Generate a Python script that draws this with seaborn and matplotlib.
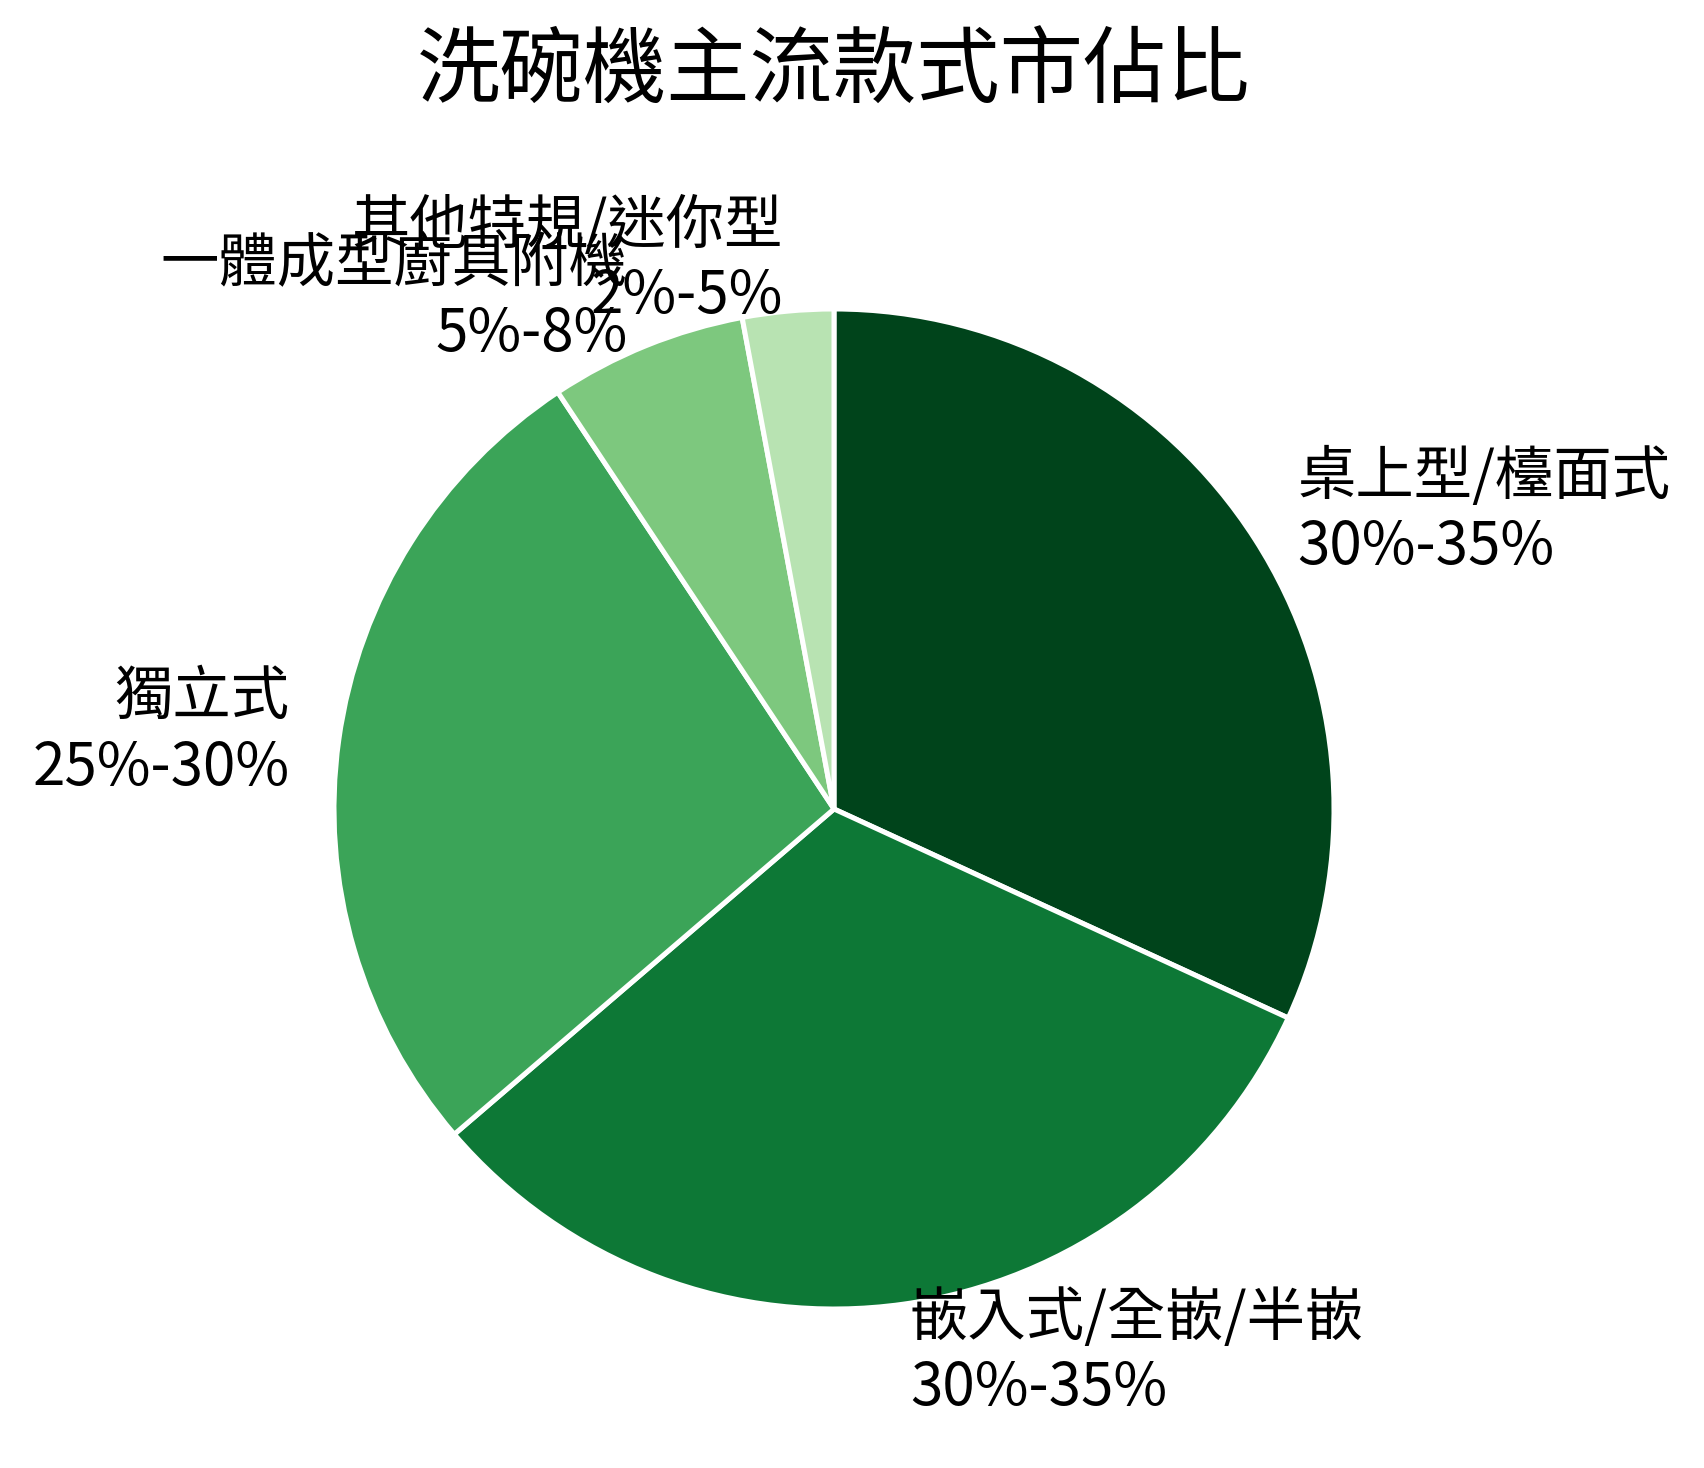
import numpy as np
import matplotlib
matplotlib.use("Agg")
import matplotlib.pyplot as plt
import seaborn as sns

# market share of dishwasher types (range labels + share used for slice size)
categories = ["桌上型/檯面式", "嵌入式/全嵌/半嵌", "獨立式", "一體成型廚具附機", "其他特規/迷你型"]
ranges = ["30%-35%", "30%-35%", "25%-30%", "5%-8%", "2%-5%"]
shares = [32.5, 32.5, 27.5, 6.5, 3.0]
title = "洗碗機主流款式市佔比"

sns.set_theme(style="white")
plt.rcParams["font.family"] = ["Noto Sans CJK TC", "DejaVu Sans"]

colors = plt.get_cmap("Greens")(np.linspace(1.0, 0.3, len(shares)))
labels = [f"{c}\n{r}" for c, r in zip(categories, ranges)]

W, H, DPI = 1704, 1468, 200
fig = plt.figure(figsize=(W / DPI, H / DPI), dpi=DPI)
fig.patch.set_facecolor("white")

# pie centre / radius in pixels
cx, cy, rad = 834, 809, 500
lim = 1.25
size = 2 * lim * rad
ax = fig.add_axes([(cx - size / 2) / W, (H - cy - size / 2) / H, size / W, size / H])

wedges, texts = ax.pie(
    shares,
    labels=labels,
    colors=colors,
    startangle=90,
    counterclock=False,
    labeldistance=1.1,
    wedgeprops=dict(edgecolor="white", linewidth=1.8),
    textprops=dict(fontsize=21, color="black"),
)
ax.set_xlim(-lim, lim)
ax.set_ylim(-lim, lim)
ax.set_aspect("equal")
ax.axis("off")

fig.text(cx / W, 1 - 73 / H, title, ha="center", va="center", fontsize=30, color="black")

fig.savefig("out.png", dpi=DPI, facecolor="white")
